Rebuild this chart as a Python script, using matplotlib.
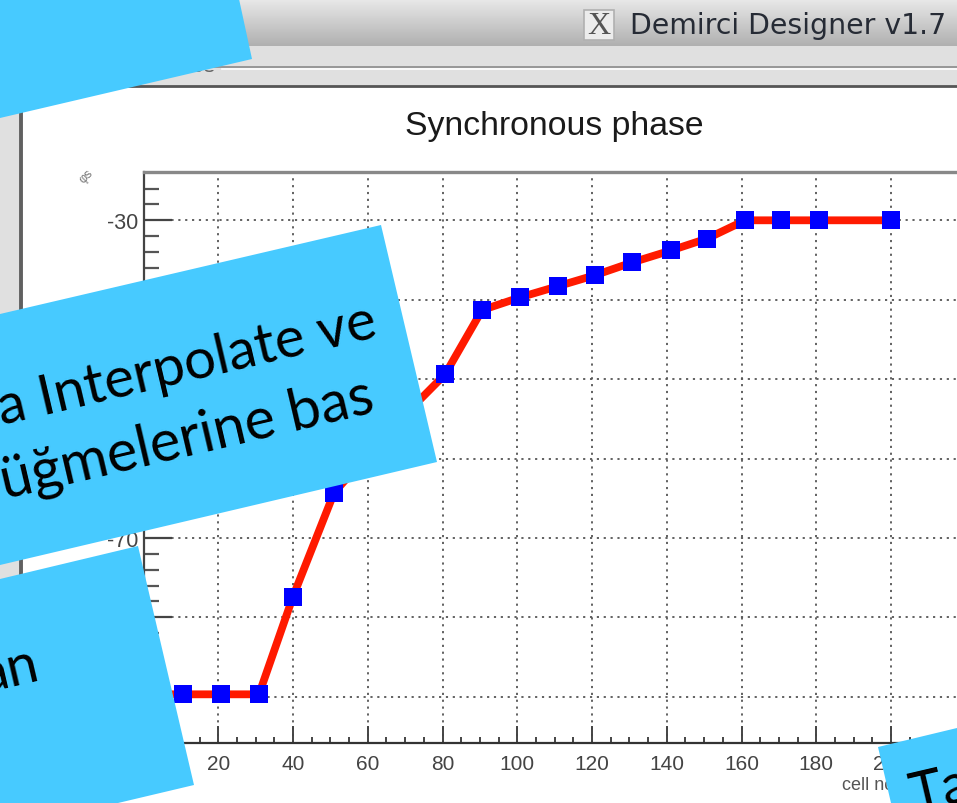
import matplotlib
matplotlib.use('Agg')
import matplotlib.pyplot as plt
import numpy as np
from matplotlib.patches import Polygon, Rectangle

plt.rcParams['axes.unicode_minus'] = False

# --- data ---
cell_no = [0.6, 10.6, 20.7, 30.9, 40, 51, 61, 71, 80.7, 90.6, 100.8, 110.9, 120.9, 130.8, 141.1, 150.8, 161, 170.6, 180.8, 200]
phase = [-89.7, -89.7, -89.7, -89.7, -77.4, -64.3, -59, -54, -49.4, -41.3, -39.7, -38.3, -36.9, -35.3, -33.8, -32.3, -30, -30, -30, -30]
x_ticks = [0, 20, 40, 60, 80, 100, 120, 140, 160, 180, 200]
y_ticks = [-30, -40, -50, -60, -70, -80, -90]

W, H = 957, 804
BANNER = '#47caff'
HELV = ['Liberation Sans', 'DejaVu Sans']

fig = plt.figure(figsize=(W / 100, H / 100), dpi=100, facecolor='white')

# window chrome underneath, in pixel coordinates
bg = fig.add_axes([0, 0, 1, 1], zorder=0)
bg.set_xlim(0, W)
bg.set_ylim(H, 0)
bg.axis('off')
grad = np.linspace(0.91, 0.69, 64).reshape(-1, 1)
bg.imshow(grad, extent=(0, W, 47, 0), cmap='gray', vmin=0, vmax=1, aspect='auto', zorder=1)
bg.set_xlim(0, W)
bg.set_ylim(H, 0)
bg.add_patch(Rectangle((0, 47), W, 40, color='#e0e0e0', lw=0, zorder=1))
bg.add_patch(Rectangle((0, 0), 19, H, color='#e0e0e0', lw=0, zorder=1))
bg.plot([19, 957], [67.5, 67.5], color='#8a8a8a', lw=1.2, zorder=2)
bg.plot([222, 957], [70, 70], color='white', lw=1.2, zorder=2)
bg.plot([19, 957], [87, 87], color='#555555', lw=2, zorder=2)
bg.plot([20.5, 20.5], [87, H], color='#606060', lw=2.8, zorder=2)
bg.add_patch(Rectangle((584, 11), 30, 30, fc='#ececec', ec='#b0b0b0', lw=1.2, zorder=2))
bg.text(599, 27, 'X', fontsize=23, family='Liberation Serif', color='#555555', ha='center', va='center', zorder=3)
bg.text(630, 26, 'Demirci Designer v1.7', fontsize=20.4, family='DejaVu Sans', color='#262b35', va='center', zorder=3)
nes = bg.text(215, 67, 'nes', fontsize=16, family=HELV, color='#666666', ha='right', va='center', zorder=1.5)
nes.set_clip_path(Rectangle((0, 71), W, 15, transform=bg.transData))
nes.set_clip_on(True)
bg.text(554, 126, 'Synchronous phase', fontsize=24.3, family=HELV, color='#1a1a1a', ha='center', va='center')
bg.text(86, 177, 'φs', fontsize=9, family=HELV, color='#777777', rotation=45, ha='center', va='center')
bg.text(842, 786, 'cell no', fontsize=13, family=HELV, color='#555555', va='center')

# the plot itself
left, right, bottom, top = 143.5, W, 743.5, 172.5
ax = fig.add_axes([left / W, 1 - bottom / H, (right - left) / W, (bottom - top) / H], zorder=1)
ax.patch.set_alpha(0)
ax.set_xlim(0, (right - left) / 3.7375)
ax.set_ylim(-30 - (bottom - 221.3) / 7.94, -30 + (221.3 - top) / 7.94)

ax.set_xticks(x_ticks)
ax.set_yticks(y_ticks)
ax.set_xticks(np.arange(0, 216, 5), minor=True)
ax.set_yticks(np.arange(-94, -24, 2), minor=True)
ax.tick_params(axis='x', which='major', direction='in', length=12, width=1.4, color='#444444', labelsize=15, labelcolor='#444444', pad=8)
ax.tick_params(axis='x', which='minor', direction='in', length=4.5, width=1.4, color='#444444')
ax.tick_params(axis='y', which='major', direction='in', length=20, width=1.6, color='#444444', labelsize=15.5, labelcolor='#444444', pad=4)
ax.tick_params(axis='y', which='minor', direction='in', length=11, width=1.6, color='#555555')
for lab in ax.get_xticklabels() + ax.get_yticklabels():
    lab.set_family(HELV)
for lab in ax.get_yticklabels():
    lab.set_va('center_baseline')
ax.grid(True, which='major', color='#555555', linestyle=(0, (1.2, 2.6)), linewidth=1.3)
ax.set_axisbelow(True)
ax.spines['top'].set_color('#888888')
ax.spines['top'].set_linewidth(2.4)
ax.spines['left'].set_color('#444444')
ax.spines['left'].set_linewidth(1.6)
ax.spines['bottom'].set_color('#333333')
ax.spines['bottom'].set_linewidth(1.6)
ax.spines['right'].set_visible(False)

ax.plot(cell_no, phase, color='#ff1a00', lw=5.6, solid_joinstyle='round', zorder=3)
ax.plot(cell_no, phase, ls='none', marker='s', ms=13, color='#0000ff', mew=0, zorder=4)

# slide banners on top
fg = fig.add_axes([0, 0, 1, 1], zorder=2)
fg.set_xlim(0, W)
fg.set_ylim(H, 0)
fg.axis('off')
banners = [
    [(0, 0), (239, 0), (252, 60), (0, 119)],
    [(0, 315), (381, 226), (437, 463), (0, 566)],
    [(0, 580), (138, 547), (194, 786), (118, 804), (0, 804)],
    [(878, 748), (957, 729), (957, 804), (891, 804)],
]
for pts in banners:
    fg.add_patch(Polygon(pts, closed=True, fc=BANNER, ec='none'))

ANGLE = 13.2
fg.text(379, 337, 'a Interpolate ve', fontsize=40.5, family='Lato', color='black', rotation=ANGLE,
        rotation_mode='anchor', ha='right', va='baseline')
fg.text(377, 412, 'üğmelerine bas', fontsize=41.5, family='Lato', color='black', rotation=ANGLE,
        rotation_mode='anchor', ha='right', va='baseline')
fg.text(41, 680, 'an', fontsize=40, family='Lato', color='black', rotation=ANGLE,
        rotation_mode='anchor', ha='right', va='baseline')
fg.text(914, 813, 'Ta', fontsize=40, family='Lato', color='black', rotation=ANGLE,
        rotation_mode='anchor', ha='left', va='baseline')

fig.savefig('out.png', dpi=100)
